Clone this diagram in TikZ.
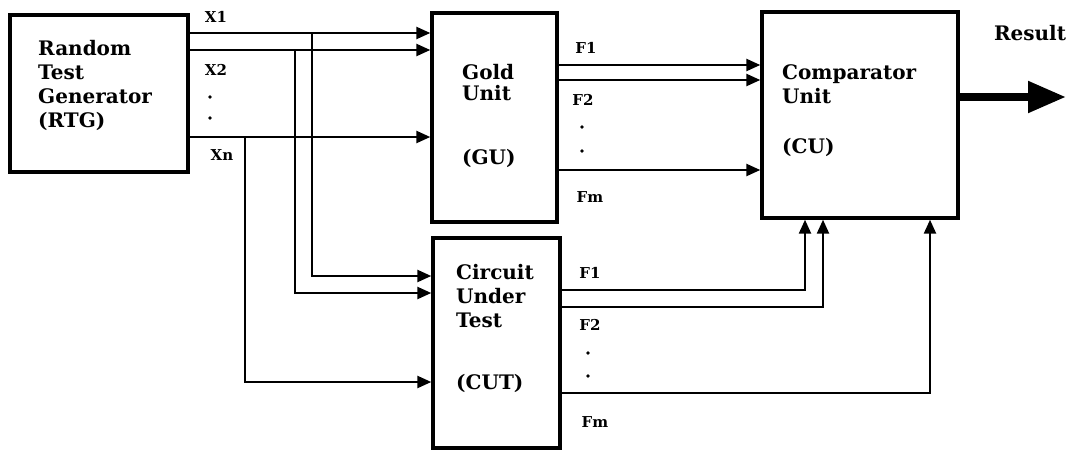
\documentclass[tikz,border=0pt]{standalone}
\usepackage{fontspec}
\setmainfont{DejaVu Serif}
\usetikzlibrary{shapes,arrows.meta,positioning,calc}

\begin{document}
\begin{tikzpicture}[x=1pt,y=-1pt,
  block/.style={draw, rectangle, line width=3.4pt, inner sep=0pt},
  sig/.style={line width=2.4pt, -{Triangle[length=14pt,width=12pt]}},
  blocktext/.style={anchor=north west, align=left, inner sep=0pt, font=\bfseries\fontsize{20}{24}\selectfont},
  lbl/.style={inner sep=0pt, font=\bfseries\fontsize{15}{17}\selectfont}]
\useasboundingbox (0,0) rectangle (1070,452);

% blocks
\node[block, minimum width=178pt, minimum height=157pt] (rtg) at (99,93.5) {};
\node[block, minimum width=125pt, minimum height=209pt] (gu) at (494.5,117.5) {};
\node[block, minimum width=127pt, minimum height=210pt] (cut) at (496.5,343) {};
\node[block, minimum width=196pt, minimum height=206pt] (cu) at (860,115) {};

\node[blocktext] (rtgtext) at (38,40) {Random\\Test\\Generator\\(RTG)};
\node[blocktext, font=\bfseries\fontsize{20}{21}\selectfont] (gutext) at (462,64) {Gold\\Unit\\[43pt](GU)};
\node[blocktext] (cuttext) at (456,264) {Circuit\\Under\\Test\\[38pt](CUT)};
\node[blocktext] (cutext) at (782,64) {Comparator\\Unit\\[26pt](CU)};

% inputs from the generator
\coordinate (jx1) at (312,33);
\coordinate (jx2) at (295,50);
\coordinate (jxn) at (245,137);
\draw[sig] (rtg.east |- jx1) -- (gu.west |- jx1);
\draw[sig] (rtg.east |- jx2) -- (gu.west |- jx2);
\draw[sig] (rtg.east |- jxn) -- (gu.west |- jxn);
\draw[sig] (jx1) |- (cut.west |- 0,276);
\draw[sig] (jx2) |- (cut.west |- 0,293);
\draw[sig] (jxn) |- (cut.west |- 0,382);

\node[lbl] (x1) at (216,17) {X1};
\node[lbl] (x2) at (216,70) {X2};
\node[lbl] (xn) at (222,155) {Xn};
\foreach \y in {97,118} \fill (210,\y) circle (1.8pt);

% outputs of the gold unit
\draw[sig] (gu.east |- 0,65) -- (cu.west |- 0,65);
\draw[sig] (gu.east |- 0,80) -- (cu.west |- 0,80);
\draw[sig] (gu.east |- 0,170) -- (cu.west |- 0,170);
\node[lbl] (guf1) at (586,48) {F1};
\node[lbl] (guf2) at (583,100) {F2};
\node[lbl] (gufm) at (590,197) {Fm};
\foreach \y in {127,151} \fill (582,\y) circle (1.8pt);

% outputs of the circuit under test
\draw[sig] (cut.east |- 0,290) -| (cu.south -| 805,0);
\draw[sig] (cut.east |- 0,307) -| (cu.south -| 823,0);
\draw[sig] (cut.east |- 0,393) -| (cu.south -| 930,0);
\node[lbl] (cutf1) at (590,273) {F1};
\node[lbl] (cutf2) at (590,325) {F2};
\node[lbl] (cutfm) at (595,422) {Fm};
\foreach \y in {353,376} \fill (588,\y) circle (1.8pt);

% result
\coordinate (res) at (1066,97);
\draw[line width=8pt, -{Triangle[length=38pt,width=30pt]}] (cu.east |- res) -- (res);
\node[inner sep=0pt, font=\bfseries\fontsize{20}{24}\selectfont] (result) at (1030,33) {Result};
\end{tikzpicture}
\end{document}
